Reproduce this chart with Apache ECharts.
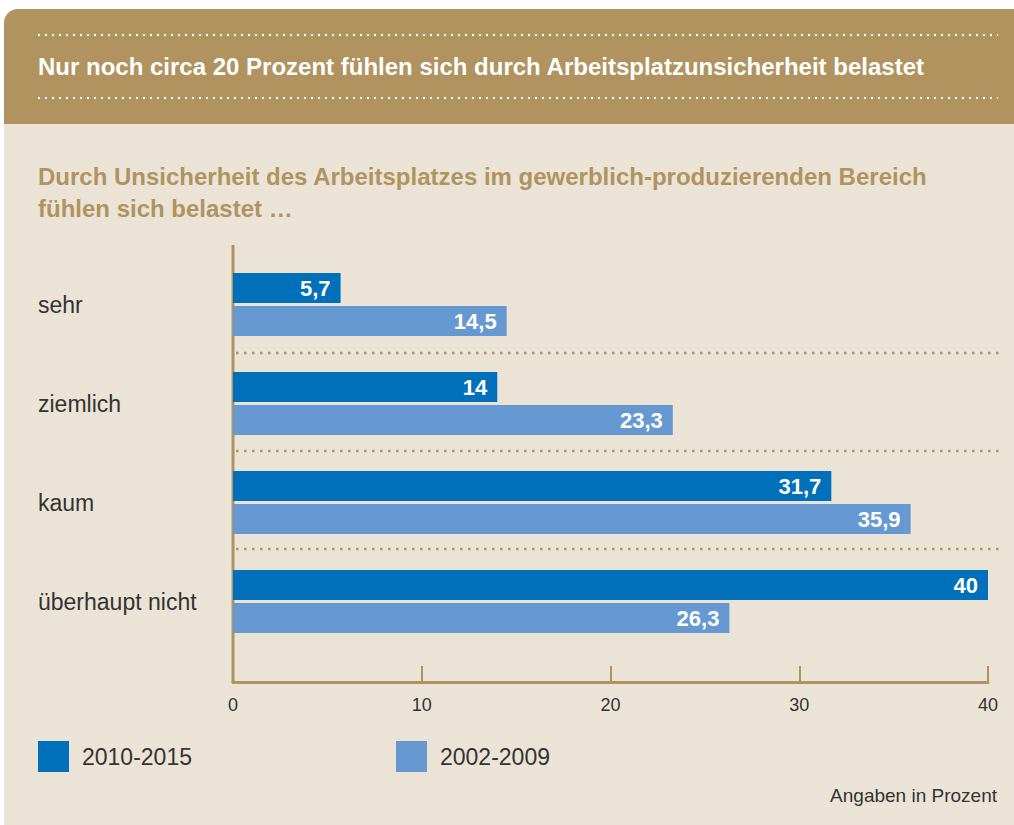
<!DOCTYPE html>
<html>
<head>
<meta charset="utf-8">
<script src="https://cdn.jsdelivr.net/npm/echarts@6/dist/echarts.min.js"></script>
<style>
  html, body { margin: 0; padding: 0; background: #fff; }
  #main { width: 1014px; height: 825px; }
</style>
</head>
<body>
<div id="main"></div>
<script>
const categories = ['sehr', 'ziemlich', 'kaum', 'überhaupt nicht'];
const years2010 = [5.7, 14, 31.7, 40];
const years2002 = [14.5, 23.3, 35.9, 26.3];
const seriesNames = ['2010-2015', '2002-2009'];
const xTicks = [0, 10, 20, 30, 40];

const gold = '#b0935f';
const bg = '#ebe4d6';
const font = '"Liberation Sans", Arial, sans-serif';

const myChart = echarts.init(document.getElementById('main'), null, {renderer: 'svg'});

// deutsches Dezimalkomma
const fmt = p => String(p.value).replace('.', ',');

const barLabel = {
    show: true,
    position: 'insideRight',
    distance: 10,
    color: '#fff',
    fontFamily: font,
    fontWeight: 'bold',
    fontSize: 22,
    formatter: fmt
};

// eine Legende je Serie, damit die Abstände stimmen
const legendAt = (name, left) => ({
    left,
    top: 741,
    padding: 0,
    itemWidth: 31,
    itemHeight: 31,
    icon: 'rect',
    data: [name],
    textStyle: { fontFamily: font, fontSize: 23, color: '#333', padding: [0, 0, 0, 8] }
});

const option = {
    textStyle: { fontFamily: font },
    animation: false,
    grid: { left: 233, right: 26, top: 255, height: 396 },
    legend: [legendAt(seriesNames[0], 38), legendAt(seriesNames[1], 396)],
    xAxis: {
        type: 'value',
        min: xTicks[0],
        max: xTicks[xTicks.length - 1],
        interval: 10,
        offset: 31,
        axisLine: { show: true, lineStyle: { color: gold, width: 3 } },
        axisTick: { show: true, inside: true, length: 16, lineStyle: { color: gold, width: 2 } },
        splitLine: { show: false },
        axisLabel: { color: '#333', fontSize: 18, margin: 14, fontFamily: font }
    },
    yAxis: {
        type: 'category',
        inverse: true,
        data: categories,
        axisLine: { show: false },
        axisTick: { show: false },
        axisLabel: { align: 'left', margin: 195, color: '#333', fontSize: 23, fontFamily: font }
    },
    series: [
        {
            name: seriesNames[0], type: 'bar', data: years2010,
            barWidth: 30, barGap: '10%',
            itemStyle: { color: '#0070bb' },
            label: barLabel
        },
        {
            name: seriesNames[1], type: 'bar', data: years2002,
            barWidth: 30, barGap: '10%',
            itemStyle: { color: '#6699d2' },
            label: barLabel
        }
    ]
};

myChart.setOption(option);

// Hintergrund, Kopfzeile, Trennlinien
const headerDots = y => ({
    type: 'line', silent: true,
    shape: { x1: 38, y1: y, x2: 998, y2: y },
    style: { stroke: '#fff', lineWidth: 2, lineDash: [2, 5] }
});
const y0 = myChart.convertToPixel({ yAxisIndex: 0 }, categories[0]);
const y1 = myChart.convertToPixel({ yAxisIndex: 0 }, categories[1]);
const band = y1 - y0;
const separators = [1, 2, 3].map(i => {
    const y = Math.round(y0 + band * (i - 0.5)) - i;
    return {
        type: 'line', silent: true, z: 1,
        shape: { x1: 236, y1: y, x2: 1000, y2: y },
        style: { stroke: gold, lineWidth: 2.5, lineDash: [2.5, 5.5] }
    };
});

myChart.setOption({
    graphic: [
        { type: 'rect', z: -10, shape: { x: 4, y: 124, width: 1010, height: 701 }, style: { fill: bg } },
        { type: 'rect', z: -10, shape: { x: 4, y: 9, width: 1010, height: 115, r: [14, 0, 0, 0] }, style: { fill: gold } },
        headerDots(35),
        headerDots(98),
        {
            type: 'text', left: 38, top: 54,
            style: { text: 'Nur noch circa 20 Prozent fühlen sich durch Arbeitsplatzunsicherheit belastet',
                fill: '#fff', font: 'bold 24px ' + font }
        },
        {
            type: 'text', left: 38, top: 160,
            style: { text: 'Durch Unsicherheit des Arbeitsplatzes im gewerblich-produzierenden Bereich\nfühlen sich belastet …',
                fill: gold, font: 'bold 24px ' + font, lineHeight: 32 }
        },
        {
            type: 'line', silent: true,
            shape: { x1: 233, y1: 245, x2: 233, y2: 683 },
            style: { stroke: gold, lineWidth: 3 }
        },
        ...separators,
        {
            type: 'text', right: 17, top: 786,
            style: { text: 'Angaben in Prozent', fill: '#333', font: '19px ' + font }
        }
    ]
});
</script>
</body>
</html>
